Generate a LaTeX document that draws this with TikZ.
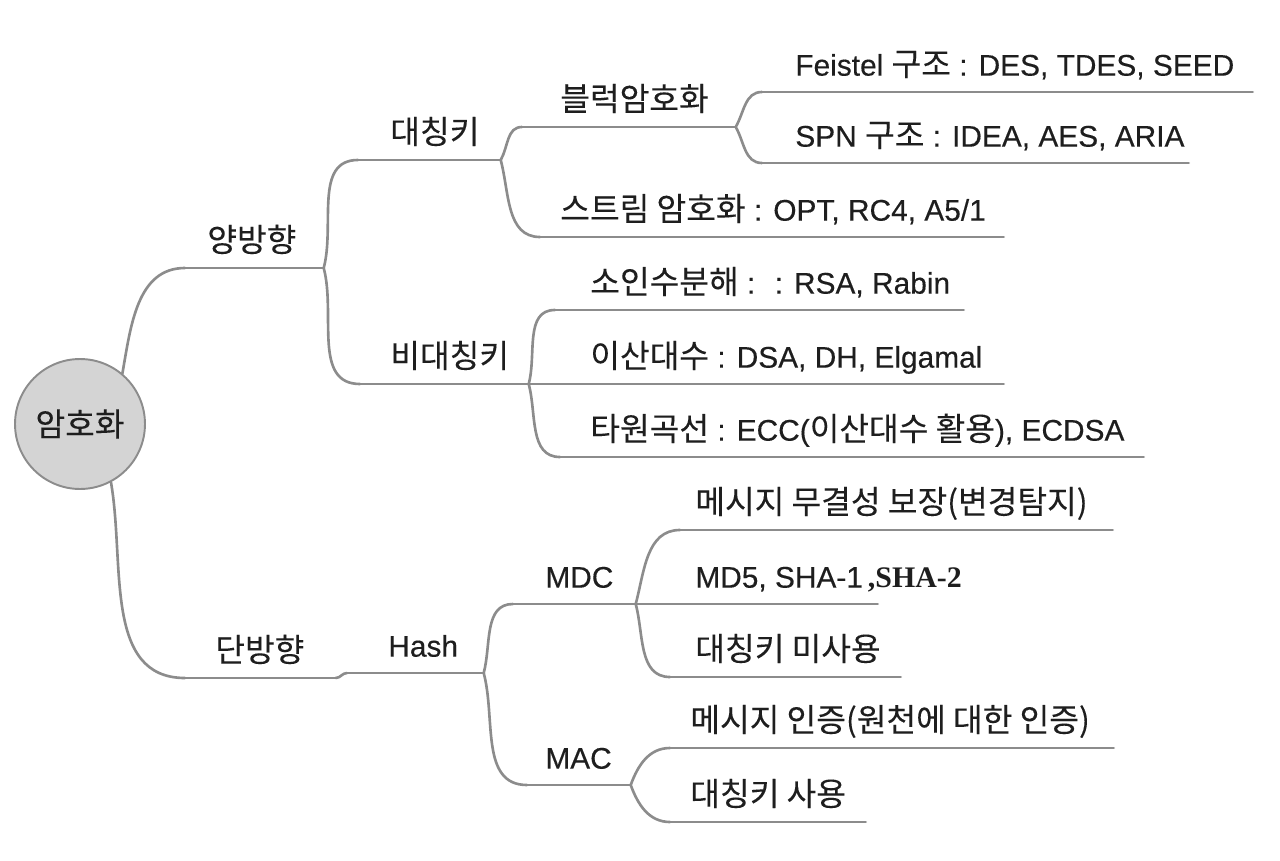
\documentclass[tikz,border=0pt]{standalone}
\usepackage{fontspec}
\setmainfont{Liberation Sans}[FakeBold=0.3]
\newfontfamily\krfont{Noto Sans CJK KR}[Scale=1.08, FakeBold=0.1]
\newfontfamily\shafont{Liberation Serif}
\newcommand\kr[1]{{\krfont #1}}
\newlength\px
\setlength\px{0.02cm}
% underlined topic text: left gap, line length, text
\newcommand\tp[3]{\makebox[#2\px][l]{\hspace*{#1\px}#3}}
\definecolor{branch}{HTML}{8C8C8C}
\definecolor{ink}{HTML}{1E1E1E}
\definecolor{hub}{HTML}{D4D4D4}

\begin{document}
\begin{tikzpicture}[x=0.02cm, y=0.02cm,
  link/.style={draw=branch, line width=1.5pt, line cap=round},
  topic/.style={anchor=south west, inner sep=0pt, text depth=0.32cm,
                text height=0.6cm, text=ink, font=\fontsize{17}{20}\selectfont},
  root/.style={circle, fill=hub, draw=branch, line width=1.1pt,
               minimum size=2.6cm, inner sep=0pt, text=ink,
               font=\fontsize{17}{20}\selectfont},
]
\useasboundingbox (0,0) rectangle (1280,860);
% centre
\node[root] (root) at (80,436) {\kr{암호화}};
% two-way branch
\node[topic] (yang)    at (185,592) {\tp{22}{138}{\kr{양방향}}};
\node[topic] (sym)     at (358,700) {\tp{32}{142}{\kr{대칭키}}};
\node[topic] (block)   at (522,733) {\tp{38}{213}{\kr{블럭암호화}}};
\node[topic] (feistel) at (762,768) {\tp{33}{490}{Feistel \kr{구조} : DES, TDES, SEED}};
\node[topic] (spn)     at (762,697) {\tp{33}{426}{SPN \kr{구조} : IDEA, AES, ARIA}};
\node[topic] (stream)  at (540,623) {\tp{20}{463}{\kr{스트림 암호화} : OPT, RC4, A5/1}};
\node[topic] (asym)    at (360,476) {\tp{30}{168}{\kr{비대칭키}}};
\node[topic] (prime)   at (555,550) {\tp{35}{408}{\kr{소인수분해} : \ : RSA, Rabin}};
\node[topic] (dlog)    at (528,476) {\tp{62}{475}{\kr{이산대수} : DSA, DH, Elgamal}};
\node[topic] (ecc)     at (560,403) {\tp{30}{583}{\kr{타원곡선} : ECC(\kr{이산대수 활용}), ECDSA}};
% one-way branch
\node[topic] (dan)     at (185,182) {\tp{30}{150}{\kr{단방향}}};
\node[topic] (hash)    at (347,187) {\tp{41}{136}{Hash}};
\node[topic] (mdc)     at (513,256) {\tp{32}{122}{MDC}};
\node[topic] (integ)   at (680,330) {\tp{15}{432}{\kr{메시지 무결성 보장(변경탐지)}}};
\node[topic] (md5)     at (635,256) {\tp{60}{242}{MD5, SHA-1\,{\shafont\bfseries ,SHA-2}}};
\node[topic] (nokey)   at (670,183) {\tp{25}{230}{\kr{대칭키 미사용}}};
\node[topic] (mac)     at (527,75)  {\tp{18}{103}{MAC}};
\node[topic] (auth)    at (670,112) {\tp{20}{443}{\kr{메시지 인증(원천에 대한 인증)}}};
\node[topic] (key)     at (670,38)  {\tp{20}{195}{\kr{대칭키 사용}}};
% underlines
\foreach \n in {yang,sym,block,feistel,spn,stream,asym,prime,dlog,ecc,
                dan,hash,mdc,integ,md5,nokey,mac,auth,key}
  \draw[link] (\n.south west) -- (\n.south east);
% branches
\draw[link] (root.50)  to[out=80,in=180]  (yang.south west);
\draw[link] (root.-62) to[out=-80,in=180] (dan.south west);
\draw[link] (yang.south east) to[out=75,in=180]  (sym.south west);
\draw[link] (yang.south east) to[out=-75,in=180] (asym.south west);
\draw[link] (sym.south east) to[out=60,in=180]  (block.south west);
\draw[link] (sym.south east) to[out=-75,in=180] (stream.south west);
\draw[link] (block.south east) to[out=60,in=180]  (feistel.south west);
\draw[link] (block.south east) to[out=-60,in=180] (spn.south west);
\draw[link] (asym.south east) to[out=75,in=180]  (prime.south west);
\draw[link] (asym.south east) -- (dlog.south west);
\draw[link] (asym.south east) to[out=-75,in=180] (ecc.south west);
\draw[link] (dan.south east) to[out=0,in=180] (hash.south west);
\draw[link] (hash.south east) to[out=75,in=180]  (mdc.south west);
\draw[link] (hash.south east) to[out=-75,in=180] (mac.south west);
\draw[link] (mdc.south east) to[out=75,in=180]  (integ.south west);
\draw[link] (mdc.south east) -- (md5.south west);
\draw[link] (mdc.south east) to[out=-75,in=180] (nokey.south west);
\draw[link] (mac.south east) to[out=70,in=180]  (auth.south west);
\draw[link] (mac.south east) to[out=-70,in=180] (key.south west);
\end{tikzpicture}
\end{document}
